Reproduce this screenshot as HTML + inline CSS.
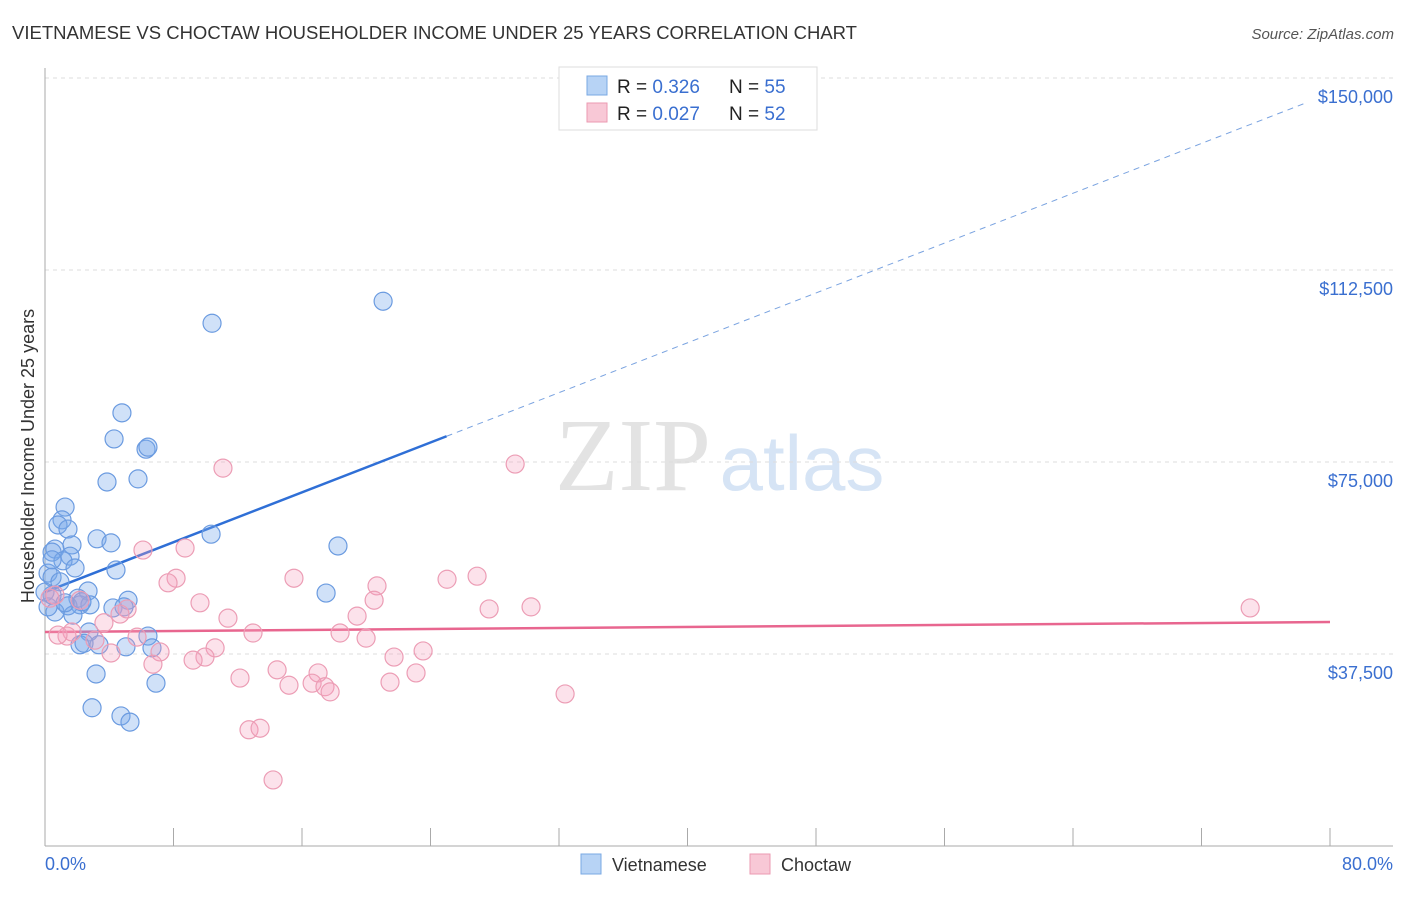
<!DOCTYPE html>
<html><head><meta charset="utf-8"><style>
body{margin:0;background:#fff;font-family:"Liberation Sans",sans-serif;}
svg text{font-family:"Liberation Sans",sans-serif;}
</style></head><body>
<svg id="c" width="1406" height="892" viewBox="0 0 1406 892" xmlns="http://www.w3.org/2000/svg">
<text x="12" y="39" font-size="18" fill="#333" textLength="845" lengthAdjust="spacingAndGlyphs">VIETNAMESE VS CHOCTAW HOUSEHOLDER INCOME UNDER 25 YEARS CORRELATION CHART</text>
<text x="1394" y="39" font-size="15" fill="#555" font-style="italic" text-anchor="end">Source: ZipAtlas.com</text>
<g>
<text x="633" y="490" font-size="104" fill="#e3e3e3" text-anchor="middle" style="font-family:'Liberation Serif',serif">ZIP</text>
<text x="802" y="490" font-size="78" fill="#d6e4f5" text-anchor="middle">atlas</text>
</g>
<g id="grid"></g><g id="axes"></g><g id="lines"></g><g id="pts"></g>
<text transform="translate(34,456) rotate(-90)" font-size="18" fill="#333" text-anchor="middle">Householder Income Under 25 years</text>
<g>
<rect x="559" y="67" width="258" height="63" fill="#fff" stroke="#ddd"/>
<rect x="587" y="76" width="20" height="19" fill="#b7d3f5" stroke="#7aa8e3"/>
<rect x="587" y="103" width="20" height="19" fill="#f8c8d6" stroke="#eb9ab1"/>
<text x="617" y="93" font-size="19" fill="#222">R = <tspan fill="#3a6fd0">0.326</tspan></text>
<text x="729" y="93" font-size="19" fill="#222">N = <tspan fill="#3a6fd0">55</tspan></text>
<text x="617" y="120" font-size="19" fill="#222">R = <tspan fill="#3a6fd0">0.027</tspan></text>
<text x="729" y="120" font-size="19" fill="#222">N = <tspan fill="#3a6fd0">52</tspan></text>
</g>
<g>
<rect x="581" y="854" width="20" height="20" fill="#b7d3f5" stroke="#7aa8e3"/>
<text x="612" y="871" font-size="18" fill="#333">Vietnamese</text>
<rect x="750" y="854" width="20" height="20" fill="#f8c8d6" stroke="#eb9ab1"/>
<text x="781" y="871" font-size="18" fill="#333">Choctaw</text>
</g>
<text x="45" y="870" font-size="18" fill="#3a6fd0">0.0%</text>
<text x="1393" y="870" font-size="18" fill="#3a6fd0" text-anchor="end">80.0%</text>
</svg>
<script>
const yTicks=[37500,75000,112500,150000];
const yTickLabels=["$37,500","$75,000","$112,500","$150,000"];
const xTicks=[0,8,16,24,32,40,48,56,64,72,80];
const viX=[21.05,10.4,4.79,4.3,6.29,6.41,3.86,5.79,1.25,1.06,0.81,1.43,10.34,3.24,4.11,1.68,0.62,18.24,1.56,0.44,1.12,1.87,4.42,0.19,0.44,0.93,2.68,2.05,5.17,2.18,1.43,4.23,4.92,0.62,1.74,2.8,17.5,6.41,2.74,2.18,3.36,5.04,6.66,3.18,6.91,2.93,4.73,5.29,0.19,0.44,0.0,0.44,2.3,2.43,1.25];
const viY=[106.4,102.1,84.6,79.5,77.5,77.9,71.1,71.7,66.2,63.7,62.7,61.9,60.9,60.0,59.2,58.8,58.0,58.6,56.6,57.4,55.7,54.3,53.9,53.3,52.5,51.6,49.8,48.4,48.0,47.1,46.9,46.5,46.7,45.7,45.1,47.1,49.4,41.0,41.8,39.3,39.3,38.9,38.7,33.6,31.8,27.0,25.4,24.2,46.7,49.0,49.6,55.9,47.7,39.6,47.5];
const chX=[29.27,11.08,6.1,8.72,8.16,7.66,15.5,20.67,25.03,26.9,30.26,27.65,75.03,9.65,19.43,20.49,11.39,5.11,4.67,3.67,0.62,0.31,1.68,1.37,3.11,5.73,12.95,18.37,19.99,23.54,21.73,10.59,7.16,4.11,9.96,9.22,6.72,14.45,17.0,23.1,12.14,15.19,16.63,17.43,17.75,21.48,32.38,12.7,13.39,14.2,0.81,2.18];
const chY=[74.6,73.8,57.8,58.2,52.3,51.4,52.3,50.8,52.1,52.7,46.7,46.3,46.5,47.5,44.9,48.0,44.5,46.3,45.3,43.6,49.0,48.4,41.8,41.0,40.2,40.8,41.6,41.6,40.6,38.1,36.9,38.7,37.9,37.7,36.9,36.3,35.5,34.4,33.8,33.8,32.8,31.4,31.8,31.1,30.1,32.0,29.7,22.7,23.0,12.9,41.2,48.0];
const viTrend=[49.6,1.217]; const chTrend=[41.8,0.0244];
const X=p=>45+p*1285/80, Y=k=>846-k*1000*192/37500;
const NS="http://www.w3.org/2000/svg";
function mk(t,a,p){const e=document.createElementNS(NS,t);for(const k in a)e.setAttribute(k,a[k]);p.appendChild(e);return e;}
const g=document.getElementById('grid'),ax=document.getElementById('axes'),ln=document.getElementById('lines'),pt=document.getElementById('pts');
yTicks.forEach((v,i)=>{const y=Y(v/1000);
const l=mk('line',{x1:45,x2:1393,y1:y,y2:y,stroke:'#ddd','stroke-dasharray':'4,4'},g);


const t=mk('text',{x:1393,y:y+25,'font-size':18,fill:'#3a6fd0','text-anchor':'end'},ax);t.textContent=yTickLabels[i];

});
const yl=mk('line',{x1:45,x2:45,y1:68,y2:846,stroke:'#aaa'},ax);


const xl=mk('line',{x1:45,x2:1393,y1:846,y2:846,stroke:'#aaa'},ax);


xTicks.forEach(v=>{const t=mk('line',{x1:X(v),x2:X(v),y1:828,y2:846,stroke:'#aaa'},ax);

});
function pts(xs,ys,fill,stroke,name){xs.forEach((x,i)=>{const c=mk('circle',{cx:X(x),cy:Y(ys[i]),r:9,fill:fill,stroke:stroke,'stroke-width':1.2},pt);

});}
pts(viX,viY,'rgba(120,170,235,0.35)','#6b9be0','vietnamese-point');
pts(chX,chY,'rgba(245,160,190,0.3)','#ec9db5','choctaw-point');
const f=(t,x)=>t[0]+t[1]*x;
const b1=mk('line',{x1:X(0),y1:Y(f(viTrend,0)),x2:X(25),y2:Y(f(viTrend,25)),stroke:'#2f6fd6','stroke-width':2.5},ln);


const b2=mk('line',{x1:X(25),y1:Y(f(viTrend,25)),x2:X(78.5),y2:Y(f(viTrend,78.5)),stroke:'#7aa3e0','stroke-width':1,'stroke-dasharray':'6,5'},ln);


const p1=mk('line',{x1:X(0),y1:Y(f(chTrend,0)),x2:X(80),y2:Y(f(chTrend,80)),stroke:'#e8668f','stroke-width':2.5},ln);


</script>
</body></html>
